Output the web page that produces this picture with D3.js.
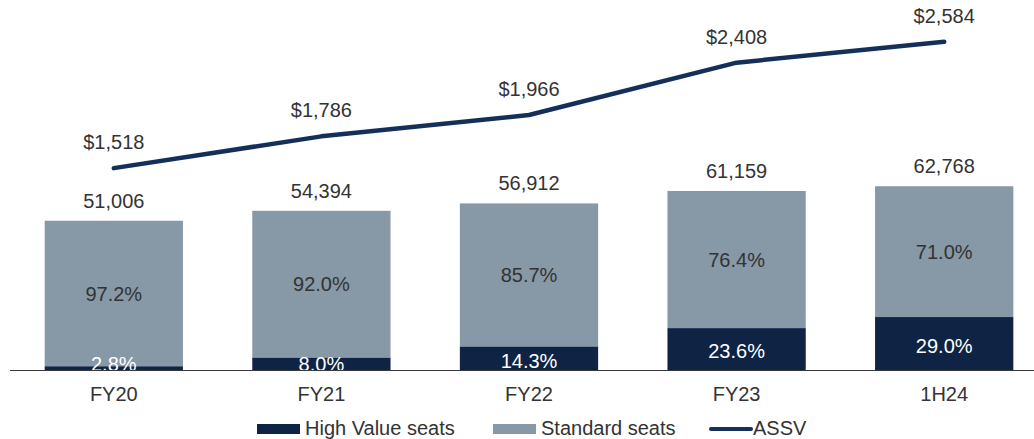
<!DOCTYPE html>
<html lang="en">
<head>
	<meta charset="utf-8"/>
	<title>Seats and ASSV</title>
	<script src="https://d3js.org/d3.v7.min.js"></script>
	<style>
	body { margin: 0; background: #fff; }
	svg { display: block; font-family: "Liberation Sans", Arial, sans-serif; }
	</style>
</head>
<body>
<svg id="chart" width="1034" height="439"></svg>

<script>
	// data
	var periods = ["FY20", "FY21", "FY22", "FY23", "1H24"];
	var totalSeats = [51006, 54394, 56912, 61159, 62768];
	var highValuePct = [2.8, 8.0, 14.3, 23.6, 29.0];
	var standardPct = [97.2, 92.0, 85.7, 76.4, 71.0];
	var assv = [1518, 1786, 1966, 2408, 2584];

	var darkBlue = "#0f2344",
		greyBlue = "#8798a7",
		lineBlue = "#14305a",
		textCol = "#333333";

	var svg = d3.select("#chart");
	var baseY = 370.5;

	// x scale - one band per period
	var x = d3.scaleBand()
		.domain(periods)
		.range([10, 1048])
		.paddingInner(0.334)
		.paddingOuter(0.167);

	// seats scale
	var y = d3.scaleLinear()
		.domain([0, 70000])
		.range([baseY, baseY - 205.5]);

	// ASSV scale (secondary)
	var y2 = d3.scaleLinear()
		.domain([0, 3000])
		.range([348, -7.5]);

	var rows = periods.map(function(p, i) {
		var hv = totalSeats[i] * highValuePct[i] / 100;
		return {period: p, total: totalSeats[i], hv: hv, hvPct: highValuePct[i], stPct: standardPct[i], assv: assv[i]};
	});

	var fmt = d3.format(",");

	var g = svg.append("g");

	// standard seats (full stack)
	g.selectAll("rect.std")
		.data(rows)
		.enter().append("rect")
		.attr("class", "std")
		.attr("x", function(d) { return x(d.period); })
		.attr("width", x.bandwidth())
		.attr("y", function(d) { return y(d.total); })
		.attr("height", function(d) { return y(d.hv) - y(d.total); })
		.attr("fill", greyBlue);

	// high value seats
	g.selectAll("rect.hv")
		.data(rows)
		.enter().append("rect")
		.attr("class", "hv")
		.attr("x", function(d) { return x(d.period); })
		.attr("width", x.bandwidth())
		.attr("y", function(d) { return y(d.hv); })
		.attr("height", function(d) { return y(0) - y(d.hv); })
		.attr("fill", darkBlue);

	// x axis
	var xAxis = svg.append("g")
		.attr("transform", "translate(0," + baseY + ")")
		.call(d3.axisBottom(x).tickSize(0).tickPadding(16));
	xAxis.select(".domain").remove();
	xAxis.append("line")
		.attr("x1", 10).attr("x2", 1034)
		.attr("stroke", "#3a3a3a").attr("stroke-width", 1.2);
	xAxis.selectAll("text")
		.attr("font-size", 20)
		.attr("font-family", "Liberation Sans, Arial, sans-serif")
		.attr("fill", textCol);

	// percent labels
	g.selectAll("text.stp")
		.data(rows)
		.enter().append("text")
		.attr("x", function(d) { return x(d.period) + x.bandwidth() / 2; })
		.attr("y", function(d) { return (y(d.total) + y(d.hv)) / 2 + 7; })
		.attr("text-anchor", "middle")
		.attr("font-size", 20)
		.attr("fill", textCol)
		.text(function(d) { return d.stPct.toFixed(1) + "%"; });

	g.selectAll("text.hvp")
		.data(rows)
		.enter().append("text")
		.attr("x", function(d) { return x(d.period) + x.bandwidth() / 2; })
		.attr("y", function(d) { return Math.min((y(0) + y(d.hv)) / 2 + 2, baseY - 7) + 7; })
		.attr("text-anchor", "middle")
		.attr("font-size", 20)
		.attr("fill", "#ffffff")
		.text(function(d) { return d.hvPct.toFixed(1) + "%"; });

	// totals above bars
	g.selectAll("text.tot")
		.data(rows)
		.enter().append("text")
		.attr("x", function(d) { return x(d.period) + x.bandwidth() / 2; })
		.attr("y", function(d) { return y(d.total) - 13; })
		.attr("text-anchor", "middle")
		.attr("font-size", 20)
		.attr("fill", textCol)
		.text(function(d) { return fmt(d.total); });

	// ASSV line
	var line = d3.line()
		.x(function(d) { return x(d.period) + x.bandwidth() / 2; })
		.y(function(d) { return y2(d.assv); });

	svg.append("path")
		.datum(rows)
		.attr("d", line)
		.attr("fill", "none")
		.attr("stroke", lineBlue)
		.attr("stroke-width", 4.5)
		.attr("stroke-linecap", "round")
		.attr("stroke-linejoin", "round");

	svg.selectAll("text.assv")
		.data(rows)
		.enter().append("text")
		.attr("x", function(d) { return x(d.period) + x.bandwidth() / 2; })
		.attr("y", function(d) { return y2(d.assv) - 19; })
		.attr("text-anchor", "middle")
		.attr("font-size", 20)
		.attr("fill", textCol)
		.text(function(d) { return "$" + fmt(d.assv); });

	// legend
	var legend = svg.append("g").attr("font-size", 20).attr("fill", textCol);
	var items = [
		{label: "High Value seats", x: 257, type: "box", color: darkBlue},
		{label: "Standard seats", x: 493, type: "box", color: greyBlue},
		{label: "ASSV", x: 711, type: "line", color: lineBlue}
	];
	items.forEach(function(it) {
		if (it.type === "box") {
			legend.append("rect")
				.attr("x", it.x).attr("y", 424)
				.attr("width", 43).attr("height", 10)
				.attr("fill", it.color);
		} else {
			legend.append("line")
				.attr("x1", it.x).attr("x2", it.x + 40)
				.attr("y1", 429).attr("y2", 429)
				.attr("stroke", it.color).attr("stroke-width", 4)
				.attr("stroke-linecap", "round");
		}
		legend.append("text")
			.attr("x", it.x + (it.type === "box" ? 48 : 42))
			.attr("y", 435)
			.text(it.label);
	});
</script>
</body>
</html>
